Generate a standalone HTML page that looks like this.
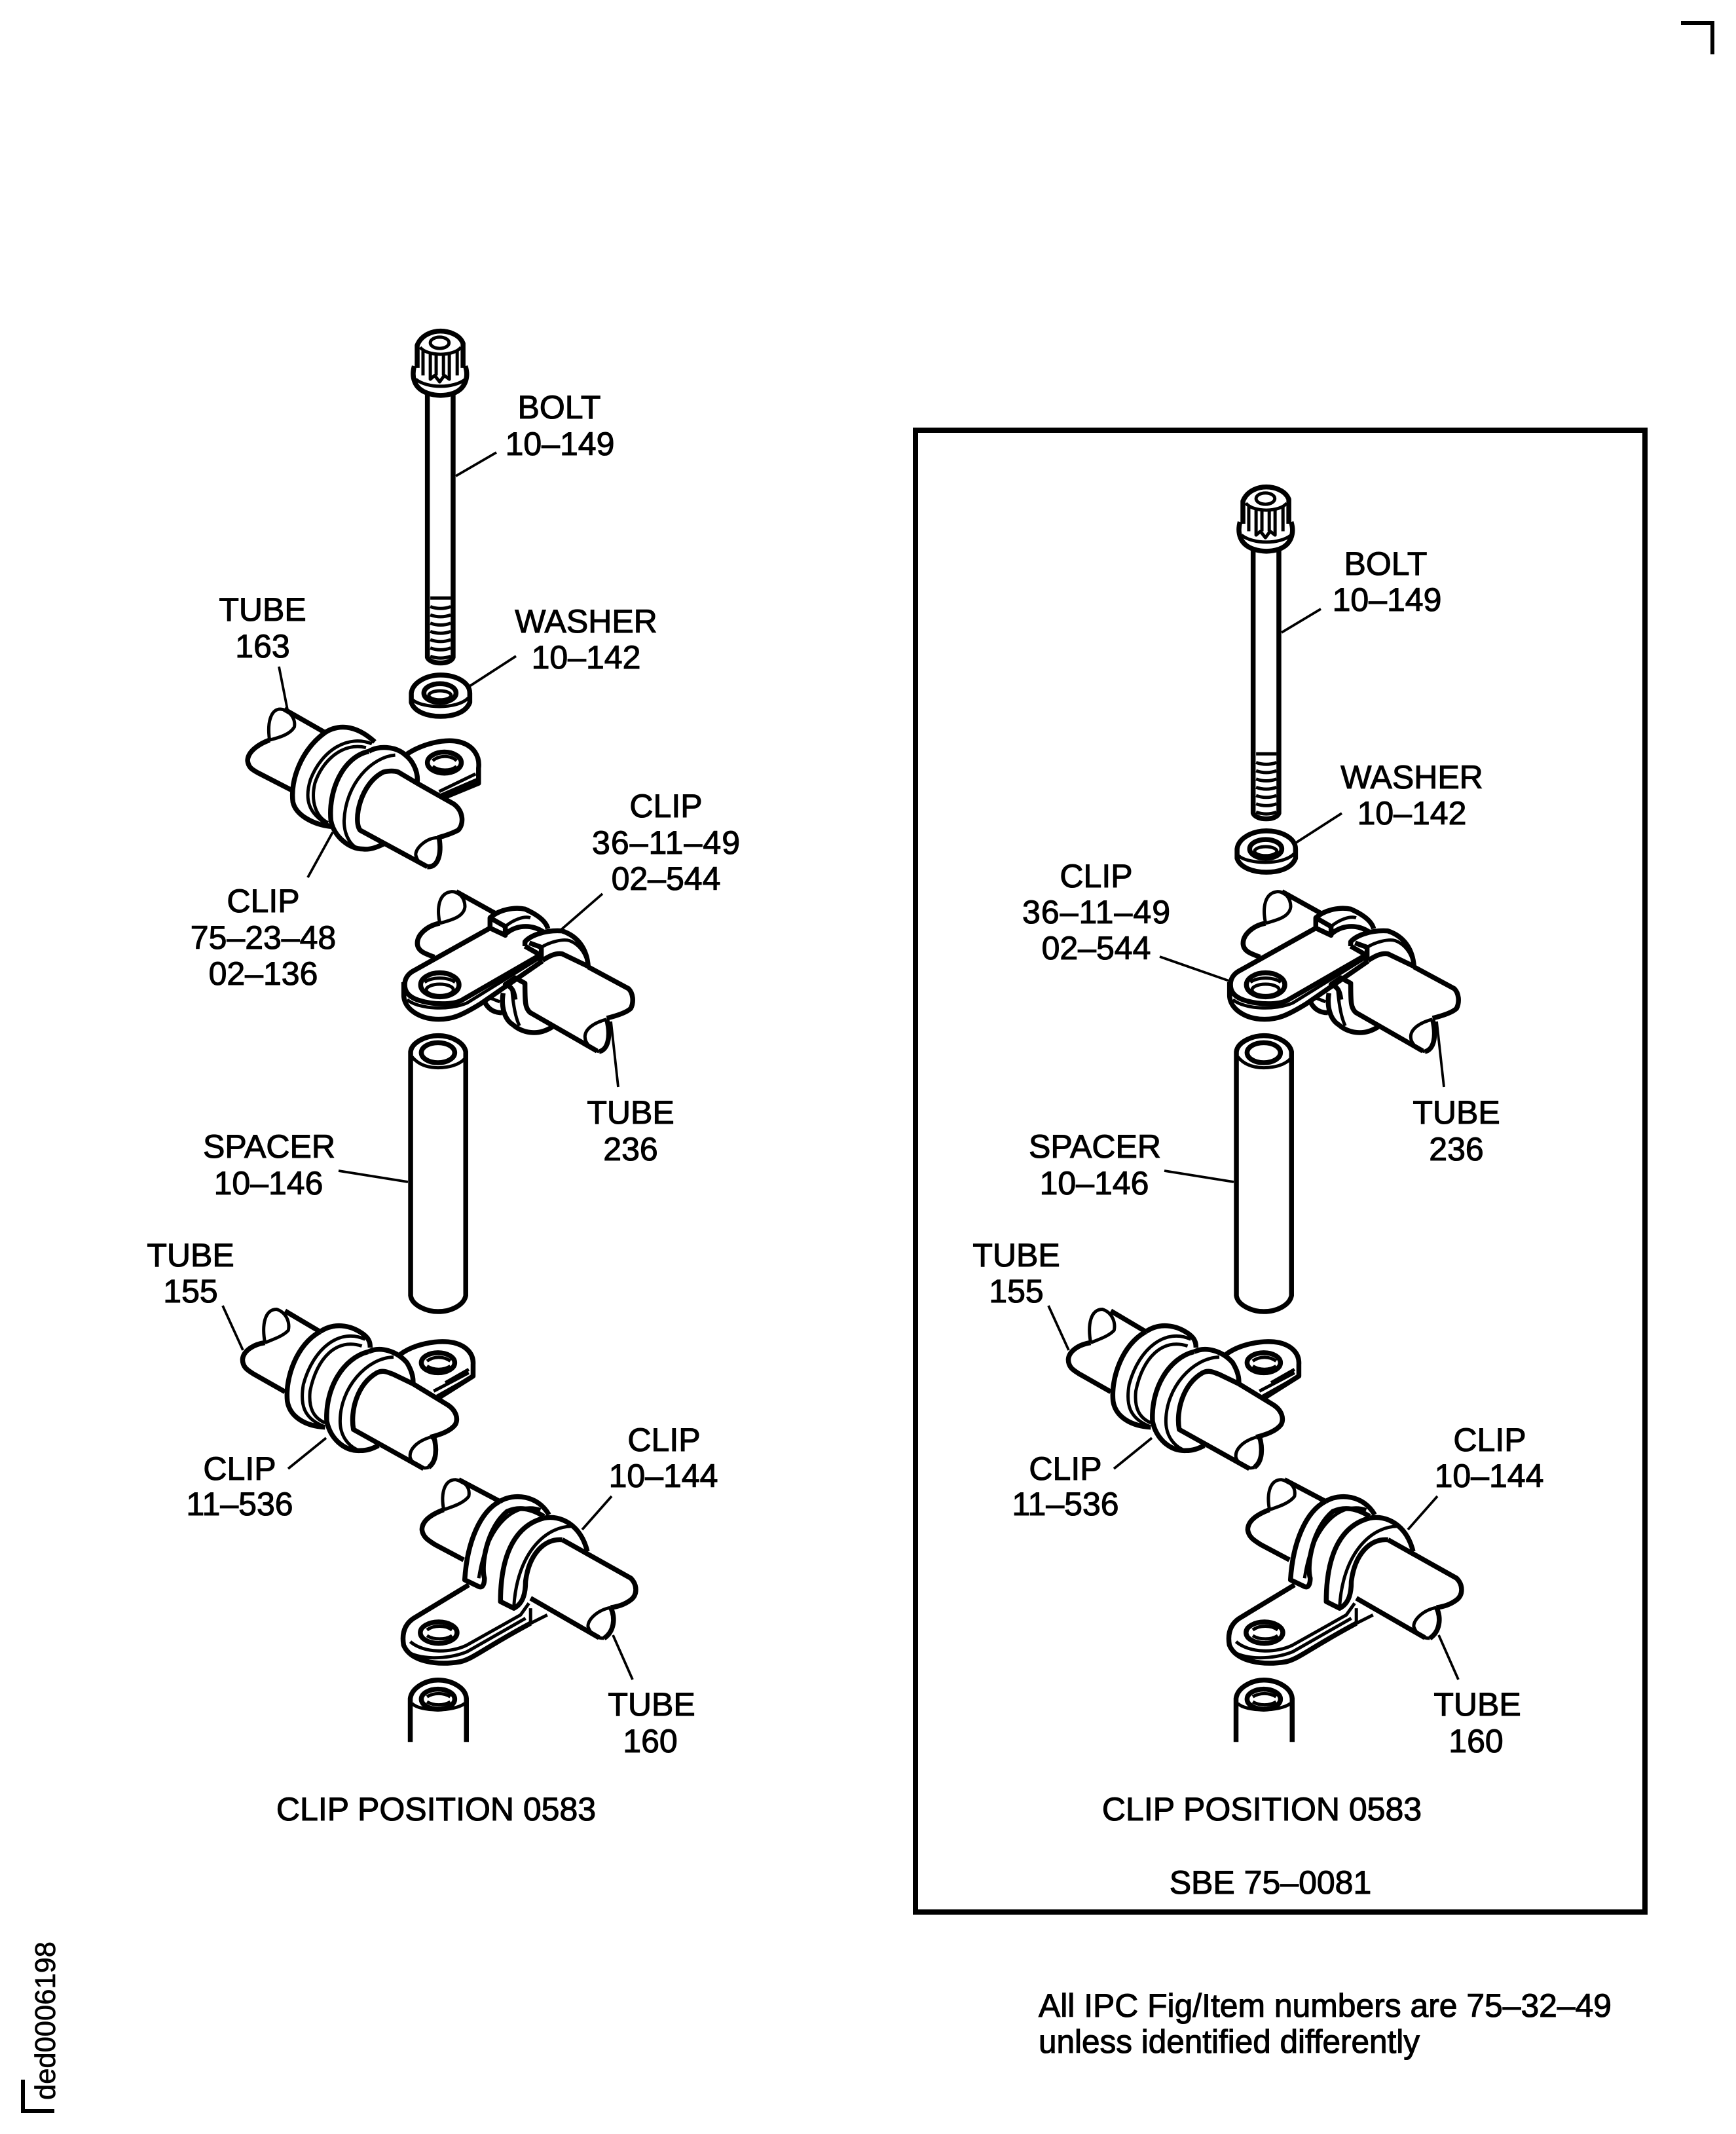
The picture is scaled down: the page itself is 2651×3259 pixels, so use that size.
<!DOCTYPE html>
<html><head><meta charset="utf-8">
<style>
html,body{margin:0;padding:0;background:#fff}
svg{display:block}
text{font-family:"Liberation Sans",Arial,sans-serif;font-size:50px;fill:#000;stroke:#000;stroke-width:1.1px;text-anchor:middle}
.g *{vector-effect:non-scaling-stroke;fill:none;stroke:#000;stroke-linecap:butt;stroke-linejoin:round;stroke-width:7.5px}
.g .n{stroke-width:5px}
.g .f{fill:#fff;stroke:none}
.l{stroke:#000;stroke-width:3.8px;fill:none}
</style></head><body>
<svg xmlns="http://www.w3.org/2000/svg" width="2651" height="3259" viewBox="0 0 2651 3259">
<rect width="2651" height="3259" fill="#fff"/>
<defs>
<g id="bolt" class="g"><g transform="translate(300 450) scale(.4464 .574)">
<path d="M755,195V135C770,105 810,97 835,97C860,97 900,105 912,130V195"/>
<path class="n" d="M765,140C790,165 880,165 905,140"/>
<ellipse class="n" cx="832" cy="128" rx="32" ry="15"/>
<path class="n" d="M775,150V215M800,155V225L815,215L832,232L848,215L865,225V155M820,160V215M845,160V215M892,150V215"/>
<path d="M745,190C735,220 745,250 790,262C820,270 850,270 880,262C920,250 932,220 920,190"/>
<path class="n" d="M750,225C790,250 880,250 920,225"/>
<path d="M790,262V965C800,985 870,985 878,965V262"/>
<path class="n" d="M800,807H870M800,830Q835,840 870,830M800,852Q835,862 870,852M800,874Q835,884 870,874M800,896Q835,906 870,896M800,918Q835,928 870,918M800,940Q835,950 870,940M800,962Q835,972 870,962"/>
</g></g>
<g id="washer" class="g"><g transform="translate(300 450) scale(.4464 .574)">
<path d="M735,1060C740,1030 790,1012 835,1012C885,1012 935,1030 935,1060V1085C920,1115 870,1122 835,1122C790,1122 745,1110 735,1085Z"/>
<path class="n" d="M740,1078C770,1100 890,1105 930,1073"/>
<ellipse cx="833" cy="1060" rx="55" ry="25"/>
<ellipse class="n" cx="833" cy="1066" rx="38" ry="12"/>
</g></g>
<g id="clipB" class="g"><g transform="translate(500 1330) scale(.3333)">
<path class="n" d="M515,240C500,170 510,100 570,95C600,95 630,120 630,165C625,210 570,225 515,240"/>
<path d="M515,240C460,250 410,290 412,335C415,370 450,380 490,395M590,95L770,195"/>
<path d="M745,215C790,175 860,165 905,175C950,195 1000,225 1010,265"/>
<path class="n" d="M815,255C850,225 900,205 930,215"/>
<path d="M815,290C860,250 930,240 990,280"/>
<path d="M805,560C795,620 810,680 850,705C890,740 960,760 1030,715M720,600C740,640 770,650 800,650"/>
<path class="n" d="M845,540C850,600 860,670 880,710M740,580L790,600"/>
<path class="f" d="M400,455L745,262L815,295L905,345L975,385L620,590C580,615 480,615 410,590C370,575 350,550 355,510C360,480 380,465 400,455Z"/>
<path d="M745,262L400,455C380,465 360,480 355,510C350,550 370,575 410,590C480,615 580,615 620,590L975,385"/>
<path d="M350,510V570C350,630 420,680 510,680C570,680 610,665 700,610L985,413"/>
<path class="n" d="M365,590C420,635 560,640 640,605L975,397"/>
<ellipse cx="515" cy="522" rx="88" ry="55"/>
<ellipse class="n" cx="515" cy="545" rx="62" ry="26"/>
<path class="n" d="M445,510C480,485 550,485 585,510"/>
<path d="M745,262V215L815,255V295L745,262"/>
<path d="M905,345V325C930,295 1000,270 1075,275C1150,300 1190,360 1195,440"/>
<path d="M905,345L975,385V412M925,330L980,350V410"/>
<path class="n" d="M980,350C1020,325 1080,310 1110,320C1150,335 1175,370 1185,400"/>
<path d="M1195,440L1380,540C1400,560 1405,600 1390,630C1370,650 1320,665 1280,675"/>
<path class="n" d="M1280,680C1220,695 1180,725 1180,760C1180,790 1210,820 1245,828"/>
<path d="M1245,828C1285,820 1300,760 1280,680M1235,825L930,650C905,630 905,600 905,515L860,490L815,520C845,530 855,550 860,590M985,410C1010,395 1040,375 1075,380L1200,440"/>
</g></g>
<g id="clipC" class="g"><g transform="translate(300 1900) scale(.5102)">
<path class="n" d="M205,295C195,240 205,195 240,195C270,205 280,235 275,258C260,275 230,285 205,295"/>
<path d="M205,295C170,300 140,320 138,345C138,370 155,378 170,388L265,442M265,200L370,262"/>
<path d="M370,262C300,300 265,400 272,470C280,520 330,545 385,548M370,262C410,235 460,240 500,270C520,285 520,300 520,310"/>
<path class="n" d="M505,285C430,250 350,310 320,420C310,480 320,520 380,545M495,305C420,280 360,340 340,440C335,490 350,520 385,535"/>
<path d="M515,322C440,340 385,430 390,530C400,580 440,620 490,618C515,618 530,610 545,603M515,322C550,305 600,320 630,355C645,380 650,400 648,418"/>
<path class="n" d="M590,338C510,340 430,430 430,530C430,570 450,600 480,615"/>
<path d="M610,330C650,300 720,285 770,295C810,305 830,330 828,360V395L725,460"/>
<path class="n" d="M710,440L815,385M720,455L815,402M815,375L745,415"/>
<ellipse cx="723" cy="355" rx="50" ry="30"/>
<path class="n" d="M690,350C710,335 740,335 760,350M690,365C710,378 740,378 760,365"/>
<path d="M648,418L750,480C775,495 785,520 775,540C760,560 730,570 700,578M680,672L470,555C460,500 480,420 540,385C560,375 575,385 590,390L648,418"/>
<path class="n" d="M700,578C660,590 635,615 640,640C650,665 680,675 695,668"/>
<path d="M695,668C720,650 720,610 710,575"/>
</g></g>
<g id="clipD" class="g"><g transform="translate(300 1900) scale(.5102)">
<path class="n" d="M740,795C730,740 745,705 775,705C805,710 820,730 815,755C800,775 770,785 740,795"/>
<path d="M740,795C700,810 675,830 675,855C678,880 700,890 715,900L800,945M785,705L908,770"/>
<path d="M908,770C850,800 810,890 803,1005L845,1025C855,1030 862,1020 862,1000C850,960 870,850 930,800C965,785 1000,790 1040,815M908,770C950,745 1020,750 1055,810"/>
<path class="n" d="M1030,795C960,770 870,830 845,1000"/>
<path d="M815,1020L650,1120C620,1140 615,1170 620,1200C640,1250 720,1262 790,1250C830,1240 860,1210 1000,1135"/>
<path class="n" d="M640,1190C680,1225 760,1225 810,1200L970,1110L995,1075M625,1215C660,1245 750,1245 810,1220L985,1120"/>
<ellipse cx="725" cy="1163" rx="55" ry="32"/>
<path class="n" d="M690,1155C710,1140 745,1140 765,1155M690,1172C710,1185 745,1185 765,1172"/>
<path d="M1040,820C960,840 910,920 910,1070L950,1090C980,1075 985,1040 985,1010C995,930 1040,880 1095,885M1040,820C1090,810 1150,840 1170,920"/>
<path class="n" d="M1130,845C1050,840 960,920 950,1085M1000,1090V1135L1050,1110"/>
<path d="M1095,885L1300,1000C1320,1020 1320,1050 1300,1065C1280,1080 1260,1085 1240,1088M1205,1178L1000,1060"/>
<path class="n" d="M1240,1088C1200,1095 1170,1125 1172,1145C1180,1170 1200,1180 1220,1180"/>
<path d="M1220,1180C1250,1160 1255,1120 1240,1088"/>
</g></g>
<g id="spacer" class="g"><g transform="translate(300 1300) scale(.5102)">
<path d="M641,600V1330C645,1360 690,1378 723,1378C760,1378 800,1360 806,1330V600C800,570 760,552 723,552C690,552 645,570 641,600Z"/>
<path class="n" d="M645,615C665,640 695,648 723,648C755,648 785,640 802,622"/>
<ellipse cx="723" cy="603" rx="50" ry="30"/>
</g></g>
<g id="stub" class="g"><g transform="translate(300 1900) scale(.5102)">
<path d="M640,1490V1360C645,1325 690,1305 723,1305C760,1305 805,1325 808,1360V1490"/>
<path class="n" d="M645,1375C670,1400 770,1400 803,1375"/>
<ellipse cx="723" cy="1362" rx="50" ry="30"/>
<path class="n" d="M690,1355C710,1342 740,1342 760,1355M690,1370C710,1382 740,1382 760,1370"/>
</g></g>
<g id="shared">
<use href="#clipB"/><use href="#spacer"/><use href="#clipC"/><use href="#clipD"/><use href="#stub"/>
<path class="l" d="M933,1560L944,1660M517,1788L623,1805M340,1994L371,2062M498,2196L440,2243M934,2285L889,2336 M936,2497L966,2565"/>
<text x="963" y="1716">TUBE</text><text x="963" y="1772">236</text>
<text x="411" y="1768">SPACER</text><text x="410" y="1824">10–146</text>
<text x="291" y="1934">TUBE</text><text x="291" y="1989">155</text>
<text x="366" y="2260">CLIP</text><text x="366" y="2314">11–536</text>
<text x="1014" y="2216">CLIP</text><text x="1013" y="2271">10–144</text>
<text x="995" y="2620">TUBE</text><text x="993" y="2676">160</text>
<text x="666" y="2780">CLIP POSITION 0583</text>
</g>
</defs>

<!-- corner marks -->
<path d="M2567,35H2615V83" fill="none" stroke="#000" stroke-width="6"/>
<path d="M35,3176V3224H83" fill="none" stroke="#000" stroke-width="6"/>
<text transform="translate(84 3207) rotate(-90)" style="text-anchor:start;font-size:44px;stroke-width:.7px" textLength="242" lengthAdjust="spacingAndGlyphs">ded0006198</text>

<!-- left -->
<use href="#bolt"/><use href="#washer"/>
<g class="g"><g transform="translate(300 450) scale(.4464 .574)">
<path class="n" d="M250,1185C240,1130 260,1100 290,1103C315,1105 340,1125 335,1150C320,1170 285,1178 250,1185"/>
<path d="M250,1185C215,1195 175,1215 175,1240C178,1260 195,1265 210,1272L325,1318M300,1103L440,1165"/>
<path d="M440,1165C360,1210 320,1290 330,1350C340,1385 400,1410 460,1415M440,1165C480,1145 540,1140 610,1190"/>
<path class="n" d="M600,1195C520,1170 430,1210 390,1290C370,1340 380,1380 450,1410M580,1205C500,1190 430,1240 405,1300C390,1350 410,1390 450,1405"/>
<path d="M590,1215C500,1230 450,1320 460,1400C470,1440 520,1475 570,1475C600,1478 630,1465 640,1462M590,1215C620,1200 680,1200 715,1225C740,1240 760,1270 755,1300"/>
<path class="n" d="M680,1225C600,1230 510,1300 505,1400C505,1440 530,1470 560,1475"/>
<path d="M715,1225C770,1195 850,1180 900,1190C950,1200 970,1230 965,1260V1300L840,1340"/>
<path class="n" d="M830,1322L955,1275M835,1332L960,1290"/>
<ellipse cx="848" cy="1245" rx="58" ry="28"/>
<path class="n" d="M808,1240C830,1225 870,1225 890,1240M808,1255C830,1268 870,1268 890,1255"/>
<path d="M755,1300L880,1355C915,1375 915,1410 895,1425C870,1435 850,1440 825,1445M790,1522L560,1425C535,1400 560,1300 640,1270Q670,1265 690,1270L755,1300"/>
<path class="n" d="M825,1445C790,1445 750,1470 750,1490C755,1510 770,1515 790,1522"/>
<path d="M790,1522C825,1525 840,1490 830,1445"/>
</g></g>
<path class="l" d="M696,727L758,691M717,1048L788,1002M426,1018L439,1084M508,1271L470,1340M920,1365L852,1424"/>
<text x="854" y="639">BOLT</text><text x="855" y="695">10–149</text>
<text x="401" y="948">TUBE</text><text x="401" y="1004">163</text>
<text x="895" y="966">WASHER</text><text x="895" y="1021">10–142</text>
<text x="1017" y="1248">CLIP</text><text x="1017" y="1304" textLength="226">36–11–49</text><text x="1017" y="1359">02–544</text>
<text x="402" y="1393">CLIP</text><text x="402" y="1449">75–23–48</text><text x="402" y="1504">02–136</text>
<use href="#shared"/>

<!-- right -->
<rect x="1398" y="657" width="1114" height="2263" fill="none" stroke="#000" stroke-width="8"/>
<use href="#bolt" transform="translate(1261 238)"/><use href="#washer" transform="translate(1261 238)"/>
<path class="l" d="M1957,966L2017,930M1979,1287L2049,1242M1771,1461L1877,1498"/>
<text x="2116" y="878">BOLT</text><text x="2118" y="933">10–149</text>
<text x="2156" y="1204">WASHER</text><text x="2156" y="1259">10–142</text>
<text x="1674" y="1355">CLIP</text><text x="1674" y="1410" textLength="226">36–11–49</text><text x="1674" y="1465">02–544</text>
<use href="#shared" transform="translate(1261 0)"/>
<text x="1940" y="2892">SBE 75–0081</text>

<text x="1586" y="3080" style="text-anchor:start" textLength="875" lengthAdjust="spacingAndGlyphs">All IPC Fig/Item numbers are 75–32–49</text>
<text x="1586" y="3135" style="text-anchor:start" textLength="582" lengthAdjust="spacingAndGlyphs">unless identified differently</text>
</svg>
</body></html>
